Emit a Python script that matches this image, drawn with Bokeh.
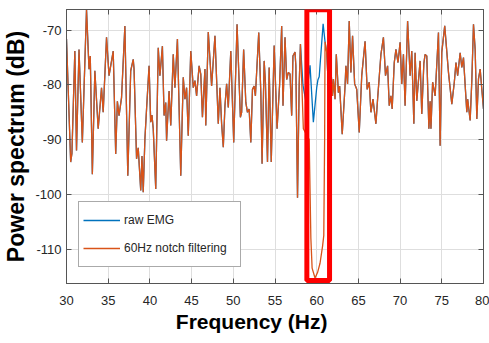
from bokeh.plotting import figure
from bokeh.models import Range1d, LinearAxis, BoxAnnotation, Legend, LegendItem, FixedTicker
from bokeh.embed import file_html
from bokeh.resources import INLINE

# ---------------- data ----------------
freq_hz = [
    30.0, 30.5, 30.65, 31.0, 31.2, 31.5, 31.9, 32.4, 32.7, 32.85, 33.1, 33.4, 33.8, 34.2, 34.4,
    34.8, 35.1, 35.6, 35.9, 36.1, 36.3, 36.6, 37.0, 37.35, 37.7, 38.0, 38.1, 38.4, 38.6, 38.9,
    39.05, 39.2, 39.4, 39.6, 39.9, 40.1, 40.25, 40.4, 40.7, 41.0, 41.2, 41.5, 41.7, 41.9, 42.0,
    42.3, 42.5, 42.8, 43.0, 43.3, 43.7, 44.0, 44.2, 44.4, 44.6, 44.9, 45.2, 45.4, 45.6, 45.9,
    46.1, 46.3, 46.6, 46.7, 47.0, 47.4, 47.8, 48.2, 48.4, 48.6, 48.8, 49.0, 49.2, 49.4, 49.7,
    50.05, 50.45, 50.85, 51.0, 51.24, 51.5, 51.7, 51.9, 52.1, 52.3, 52.5, 52.65, 53.05, 53.3,
    53.45, 53.7, 53.85, 54.1, 54.3, 54.55, 54.9, 55.25, 55.55, 55.8, 55.96, 56.2, 56.4, 56.6,
    56.8, 57.0, 57.15, 57.4, 57.5, 57.7, 57.9, 58.05, 58.35, 58.7, 59.2, 59.6, 60.0, 60.14,
    60.3, 60.77, 61.0, 61.2, 61.45, 61.7, 61.9, 62.0, 62.2, 62.35, 62.6, 62.75, 63.06, 63.4,
    63.5, 63.7, 63.9, 64.1, 64.3, 64.55, 64.8, 65.1, 65.4, 65.8, 66.05, 66.3, 66.5, 66.75,
    67.1, 67.3, 67.7, 68.0, 68.25, 68.5, 68.7, 68.9, 69.05, 69.3, 69.5, 69.75, 70.0, 70.2,
    70.4, 70.6, 70.9, 71.2, 71.4, 71.65, 71.8, 72.0, 72.4, 72.6, 72.85, 73.0, 73.2, 73.45,
    73.6, 73.7, 73.9, 74.2, 74.6, 74.8, 75.0, 75.35, 75.8, 76.2, 76.5, 76.7, 76.9, 77.2,
    77.4, 77.6, 78.0, 78.1, 78.4, 78.6, 78.8, 79.0, 79.2, 79.4, 79.6, 79.8, 80.0,
]
raw_emg_db = [
    -71.6, -94.1, -92.5, -73.8, -92.0, -73.5, -90.5, -66.2, -77.1, -74.7, -96.3, -77.4, -88.0, -80.5, -85.0,
    -71.3, -78.3, -73.8, -92.6, -83.0, -85.6, -82.3, -69.2, -96.6, -77.4, -75.3, -77.1, -93.5, -91.5, -99.3,
    -93.0, -99.6, -89.9, -84.4, -76.5, -86.8, -85.5, -88.0, -99.0, -73.2, -78.3, -72.9, -85.6, -83.2, -90.2,
    -81.1, -87.4, -74.4, -80.5, -71.6, -96.6, -78.6, -82.6, -80.5, -89.3, -73.8, -80.5, -79.2, -82.0, -76.5,
    -78.0, -85.9, -77.1, -87.4, -70.3, -80.2, -71.0, -87.1, -80.5, -87.1, -91.4, -83.8, -79.8, -84.1, -73.8,
    -90.5, -68.9, -85.9, -85.0, -73.5, -83.2, -85.0, -84.4, -90.5, -80.8, -80.2, -82.0, -70.4, -81.4,
    -94.4, -75.6, -79.5, -94.1, -76.8, -94.1, -72.8, -88.0, -80.0, -69.2, -83.8, -71.3, -79.0, -77.7,
    -78.0, -85.6, -74.7, -74.0, -76.5, -100.6, -80.0, -72.5, -80.0, -83.0, -76.4, -86.8, -80.5, -79.1,
    -78.5, -68.8, -72.1, -74.0, -82.0, -77.0, -82.0, -78.9, -82.6, -74.4, -81.4, -80.2, -89.0, -80.2,
    -76.5, -79.8, -68.3, -77.7, -71.0, -79.8, -80.8, -88.7, -78.3, -72.0, -80.8, -79.5, -85.0, -82.6,
    -87.1, -82.6, -74.4, -71.3, -78.3, -76.5, -83.8, -82.0, -84.4, -75.9, -73.5, -75.9, -72.2, -79.8,
    -74.4, -83.8, -68.3, -78.3, -73.8, -87.1, -74.1, -82.9, -75.6, -85.3, -76.0, -74.4, -74.7, -88.0,
    -83.0, -88.0, -79.5, -82.0, -70.4, -91.1, -74.0, -69.2, -77.7, -83.5, -79.5, -75.9, -78.3, -74.1,
    -76.8, -75.0, -85.0, -82.6, -86.5, -79.2, -68.9, -73.5, -86.2, -78.9, -77.1, -80.8, -84.4,
]
# filtered signal inside the notch (outside it equals the raw signal)
notch_freq_hz = [58.05, 58.4, 59.1, 59.3, 59.45, 59.8, 60.1, 60.4, 60.7, 60.85, 60.95, 61.0]
notch_db = [-72.5, -88.0, -90.0, -108.0, -113.5, -115.3, -114.3, -112.6, -109.5, -107.5, -90.0, -72.1]

x_ticks = [30, 35, 40, 45, 50, 55, 60, 65, 70, 75, 80]
y_ticks = [-110, -100, -90, -80, -70]
highlight_band_hz = (58.82, 61.54)
highlight_band_db = (-115.75, -66.25)

# filtered = raw outside notch band + notch values
filt_freq = [f for f in freq_hz if f < notch_freq_hz[0]] + notch_freq_hz + [f for f in freq_hz if f > notch_freq_hz[-1]]
filt_db = ([d for f, d in zip(freq_hz, raw_emg_db) if f < notch_freq_hz[0]] + notch_db
           + [d for f, d in zip(freq_hz, raw_emg_db) if f > notch_freq_hz[-1]])

# ---------------- styling ----------------
NARROW = "'Liberation Sans Narrow', 'Arial Narrow', 'Liberation Sans', sans-serif"
BOLD = "'Liberation Sans', Arial, sans-serif"
AX = "#555555"
TXT = "#262626"
BLUE = "#0072BD"
ORANGE = "#D95319"

p = figure(width=489, height=343, output_backend="svg", toolbar_location=None,
           x_range=Range1d(30, 80), y_range=Range1d(-116.3, -66.2),
           min_border_left=59, min_border_right=6, min_border_top=9, min_border_bottom=60,
           background_fill_color="white", border_fill_color="white")
p.outline_line_color = AX
p.outline_line_width = 1

p.xaxis.ticker = FixedTicker(ticks=x_ticks)
p.yaxis.ticker = FixedTicker(ticks=y_ticks)
p.xgrid.ticker = FixedTicker(ticks=x_ticks)
p.ygrid.ticker = FixedTicker(ticks=y_ticks)
p.grid.grid_line_color = "#dedede"
p.grid.grid_line_width = 1

for ax in (p.xaxis[0], p.yaxis[0]):
    ax.major_tick_in = 5
    ax.major_tick_out = 0
    ax.minor_tick_line_color = None
    ax.axis_line_color = AX
    ax.major_tick_line_color = AX
    ax.major_label_text_font = NARROW
    ax.major_label_text_font_size = "13px"
    ax.major_label_text_color = TXT
    ax.axis_label_text_font = BOLD
    ax.axis_label_text_font_style = "bold"
    ax.axis_label_text_color = "black"

p.xaxis.major_label_overrides = {t: str(t) for t in x_ticks}
p.yaxis.major_label_overrides = {t: str(t) for t in y_ticks}
p.xaxis.axis_label = "Frequency (Hz)" + "\u00a0" * 8
p.xaxis.axis_label_text_font_size = "21px"
p.yaxis.axis_label = "Power spectrum (dB)"
p.yaxis.axis_label_text_font_size = "23px"
p.xaxis.major_label_standoff = 12
p.xaxis.axis_label_standoff = 2
p.yaxis.major_label_standoff = 5
p.yaxis.axis_label_standoff = 3

top = LinearAxis(ticker=FixedTicker(ticks=x_ticks), major_tick_in=5, major_tick_out=0,
                 minor_tick_line_color=None, axis_line_color=AX, major_tick_line_color=AX,
                 major_label_text_font_size="0px", major_label_standoff=0,
                 major_label_overrides={t: "" for t in x_ticks})
right = LinearAxis(ticker=FixedTicker(ticks=y_ticks), major_tick_in=5, major_tick_out=0,
                   minor_tick_line_color=None, axis_line_color=AX, major_tick_line_color=AX,
                   major_label_text_font_size="0px", major_label_standoff=0,
                   major_label_overrides={t: "" for t in y_ticks})
p.add_layout(top, "above")
p.add_layout(right, "right")

r_raw = p.line(freq_hz, raw_emg_db, line_color=BLUE, line_width=1.3)
r_filt = p.line(filt_freq, filt_db, line_color=ORANGE, line_width=1.3)

box = BoxAnnotation(left=highlight_band_hz[0], right=highlight_band_hz[1],
                    bottom=highlight_band_db[0], top=highlight_band_db[1],
                    fill_color=None, fill_alpha=0, line_color="#ff0000", line_alpha=1.0,
                    line_width=5)
p.add_layout(box)

legend = Legend(items=[LegendItem(label="raw EMG", renderers=[r_raw]),
                       LegendItem(label="60Hz notch filtering", renderers=[r_filt])],
                location=(12, 16), glyph_width=37, glyph_height=28, label_height=28,
                label_width=112, padding=4, spacing=0, margin=0, label_standoff=4,
                border_line_color=AX, border_line_width=1, background_fill_color="white",
                background_fill_alpha=1,
                label_text_font=NARROW, label_text_font_size="12px", label_text_color=TXT)
p.add_layout(legend)

open("out.html", "w").write(file_html(p, INLINE))
